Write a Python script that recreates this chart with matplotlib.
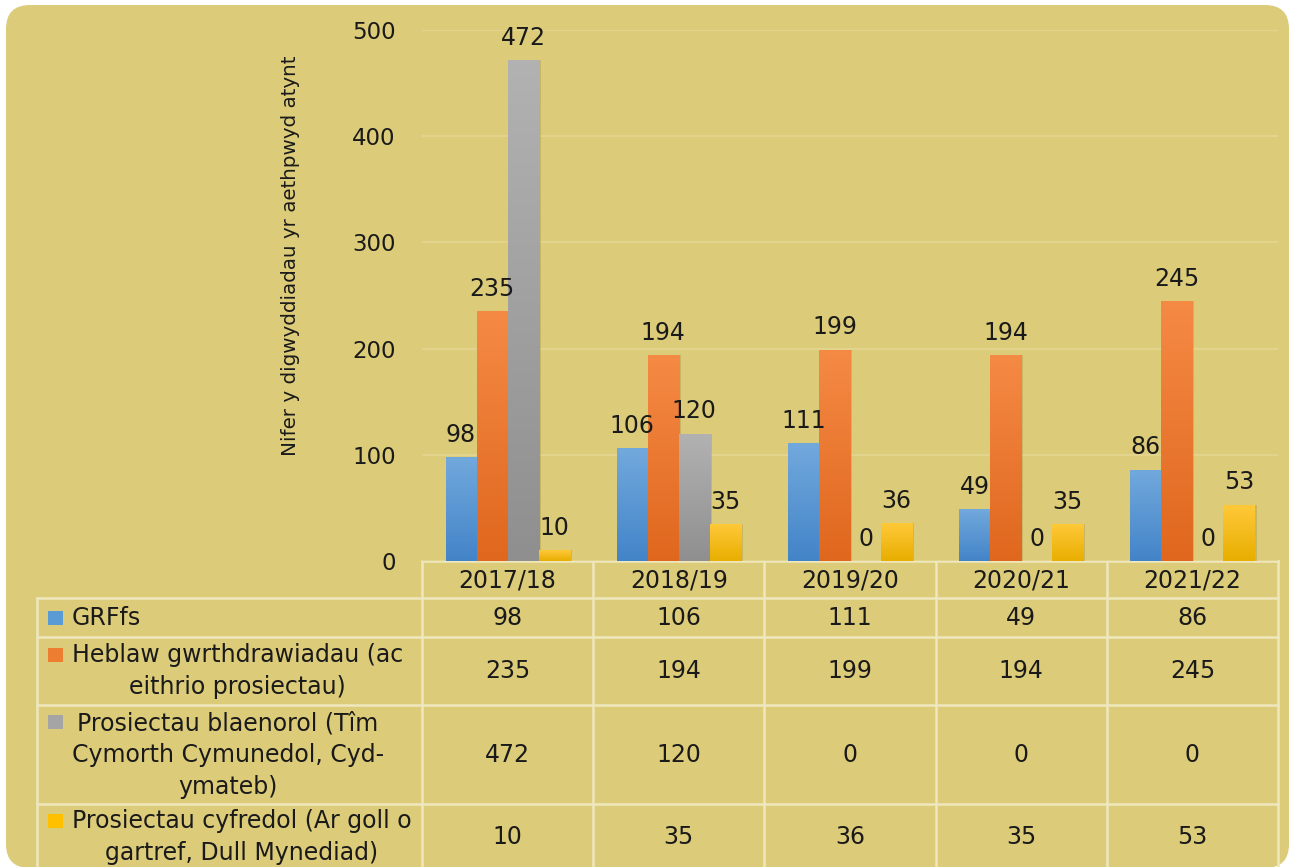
import numpy as np
import matplotlib.pyplot as plt
from matplotlib.patches import FancyBboxPatch, Rectangle
from matplotlib.colors import LinearSegmentedColormap

# data
years = ['2017/18', '2018/19', '2019/20', '2020/21', '2021/22']
series_names = ['GRFfs',
                'Heblaw gwrthdrawiadau (ac\neithrio prosiectau)',
                'Prosiectau blaenorol (Tîm\nCymorth Cymunedol, Cyd-\nymateb)',
                'Prosiectau cyfredol (Ar goll o\ngartref, Dull Mynediad)']
grffs = [98, 106, 111, 49, 86]
heblaw = [235, 194, 199, 194, 245]
blaenorol = [472, 120, 0, 0, 0]
cyfredol = [10, 35, 36, 35, 53]
series = [grffs, heblaw, blaenorol, cyfredol]

colors = ['#5B9BD5', '#ED7D31', '#A5A5A5', '#FFC000']
tops = ['#72A9DD', '#F58A45', '#B2B2B2', '#FFC93A']
bottoms = ['#4384C8', '#E0671E', '#8F8F8F', '#E8AE00']
bg = '#DCCB78'
line_c = '#EFE7BE'
fs = 17

W, H = 1290, 867
fig = plt.figure(figsize=(W / 100, H / 100), dpi=100)
fig.patch.set_facecolor('white')

# full-figure axes in pixel coords for background + table
bax = fig.add_axes([0, 0, 1, 1], zorder=0)
bax.set_xlim(0, W)
bax.set_ylim(H, 0)
bax.axis('off')
bax.add_patch(FancyBboxPatch((6, 5), 1283, 863, boxstyle='round,pad=0,rounding_size=24',
                             facecolor=bg, edgecolor='none'))

# main chart axes
x0, x1, y0, y1 = 422, 1278, 561, 30
ax = fig.add_axes([x0 / W, (H - y0) / H, (x1 - x0) / W, (y0 - y1) / H], zorder=1)
ax.patch.set_visible(False)
ax.set_xlim(-0.5, 4.5)
ax.set_ylim(0, 500)
for s in ax.spines.values():
    s.set_visible(False)
ax.set_xticks([])
ax.set_yticks(range(0, 501, 100))
ax.tick_params(axis='y', length=0, pad=19, labelsize=16.5, labelcolor='#1A1A1A')
ax.grid(axis='y', color='#E2D48C', linewidth=1.5)
ax.set_axisbelow(True)
ax.set_ylabel('Nifer y digwyddiadau yr aethpwyd atynt', fontsize=14.3, color='#1A1A1A')
ax.yaxis.set_label_coords(-0.142, 0.575)

xs = np.arange(len(years))
bw = 31 / 171
offsets = (np.arange(4) - 1.5) * bw
grad = np.linspace(1, 0, 100).reshape(-1, 1)
for i, vals in enumerate(series):
    cmap = LinearSegmentedColormap.from_list('g', [bottoms[i], tops[i]])
    bars = ax.bar(xs + offsets[i], vals, width=bw, color=colors[i], zorder=2)
    for b, v in zip(bars, vals):
        bx = b.get_x()
        if v > 0:
            # soft shadow
            ax.add_patch(Rectangle((bx + 0.012, 0), bw, v, facecolor='#8A7A30',
                                   alpha=0.25, zorder=1.5, linewidth=0))
            im = ax.imshow(grad, extent=[bx, bx + bw, 0, v], cmap=cmap,
                           aspect='auto', zorder=2.1, interpolation='bicubic')
            im.set_clip_path(b)
        ax.annotate(str(v), (bx + bw / 2, v), xytext=(0, 16), textcoords='offset points',
                    ha='center', va='center', fontsize=fs, color='#1A1A1A',
                    annotation_clip=False)
ax.set_xlim(-0.5, 4.5)
ax.set_ylim(0, 500)

# data table
col_edges = np.linspace(x0, x1, len(years) + 1)
row_edges = [561, 598, 637, 705, 804, 875]
lw = 1.8
bax.plot([x0, x1], [561, 561], color=line_c, lw=lw)
for r in row_edges[1:]:
    bax.plot([37, x1], [r, r], color=line_c, lw=lw)
for c in col_edges:
    bax.plot([c, c], [561, 875], color=line_c, lw=lw)
bax.plot([37, 37], [598, 875], color=line_c, lw=lw)

for j, yr in enumerate(years):
    bax.text((col_edges[j] + col_edges[j + 1]) / 2, 580, yr, ha='center', va='center',
             fontsize=fs, color='#1A1A1A')

row_centers = [618, 671, 755, 837]
key_y = [618, 655, 722, 821]
for i, vals in enumerate(series):
    yc = row_centers[i]
    bax.add_patch(Rectangle((48, key_y[i] - 7), 15, 14,
                            facecolor=colors[i], edgecolor='none'))
    bax.text(72, yc, series_names[i], ha='left', va='center', multialignment='center',
             fontsize=fs, color='#1A1A1A', linespacing=1.4)
    for j, v in enumerate(vals):
        bax.text((col_edges[j] + col_edges[j + 1]) / 2, yc, str(v), ha='center',
                 va='center', fontsize=fs, color='#1A1A1A')

fig.savefig('out.png', dpi=100)
